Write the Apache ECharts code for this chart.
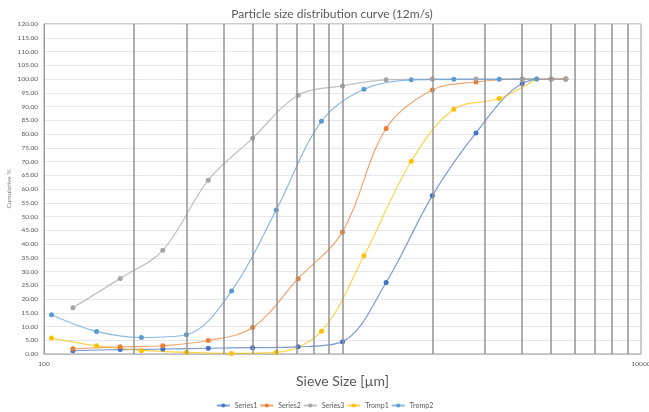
<!DOCTYPE html>
<html>
<head>
<meta charset="utf-8">
<script src="https://cdn.jsdelivr.net/npm/echarts@6/dist/echarts.min.js"></script>
<style>html,body{margin:0;padding:0;background:#fff;}#c{width:649px;height:412px;}</style>
</head>
<body>
<div id="c"></div>
<script>
// Sieve sizes (µm) for the cumulative series
const sieveSizes = [125, 180, 250, 355, 500, 710, 1000, 1400, 2000, 2800, 4000, 5000, 5600];
// Geometric-mean sizes (µm) for the Tromp series
const trompSizes = [106, 150, 212, 300, 425, 600, 850, 1180, 1700, 2360, 3350, 4470];

const series1 = [1.2, 1.6, 1.8, 2.1, 2.3, 2.6, 4.5, 26.0, 57.6, 80.4, 98.4, 100, 100];
const series2 = [1.9, 2.6, 3.0, 4.9, 9.6, 27.4, 44.4, 82.0, 96.0, 98.9, 100, 100, 100];
const series3 = [16.8, 27.5, 37.7, 63.2, 78.5, 94.1, 97.5, 99.7, 100, 100, 100, 100, 100];
const tromp1 = [5.8, 3.0, 1.3, 0.6, 0.2, 0.6, 8.3, 35.7, 70.1, 89.0, 92.9, 100];
const tromp2 = [14.3, 8.2, 6.0, 7.0, 22.9, 52.4, 84.6, 96.3, 99.7, 99.9, 99.9, 100];

// X-axis gridline values (log minor grid) and tick labels
const xGridValues = [200, 300, 400, 500, 600, 700, 800, 900, 1000, 2000, 3000, 4000, 5000, 6000, 7000, 8000, 9000];
const xTickLabels = [100, 10000];
const seriesNames = ['Series1', 'Series2', 'Series3', 'Tromp1', 'Tromp2'];

const colors = ['#4472C4', '#ED7D31', '#A5A5A5', '#FFC000', '#5B9BD5'];
const pair = (xs, ys) => xs.map((x, i) => [x, ys[i]]);
const datasets = [
  pair(sieveSizes, series1),
  pair(sieveSizes, series2),
  pair(sieveSizes, series3),
  pair(trompSizes, tromp1),
  pair(trompSizes, tromp2)
];

const chart = echarts.init(document.getElementById('c'), null, {renderer: 'canvas'});
const txt = '#595959';
const font = 'Lato, "Open Sans", sans-serif';

const mk = (name, i) => ({
  name: name,
  type: 'line',
  data: datasets[i],
  smooth: 0.35,
  symbol: 'circle',
  symbolSize: 5,
  z: 3,
  itemStyle: {color: colors[i]},
  lineStyle: {color: colors[i], width: 1.2, opacity: 0.7},
  emphasis: {disabled: true}
});

const allSeries = seriesNames.map(mk);
allSeries.push({
  name: 'grid',
  type: 'line',
  data: [],
  z: 1,
  silent: true,
  markLine: {
    silent: true,
    symbol: ['none', 'none'],
    label: {show: false},
    animation: false,
    lineStyle: {color: '#939393', width: 1.5, type: 'solid'},
    data: xGridValues.map(v => ({xAxis: v}))
  }
});

chart.setOption({
  animation: false,
  color: colors,
  title: {
    text: 'Particle size distribution curve (12m/s)',
    left: 327, top: 3, textAlign: 'center',
    textStyle: {fontFamily: font, fontSize: 12, fontWeight: 'normal', color: txt}
  },
  grid: {left: 44, right: 8, top: 24, bottom: 58, show: true, borderColor: '#9a9a9a', borderWidth: 1,
         containLabel: false, outerBoundsMode: 'none'},
  legend: {
    data: seriesNames,
    top: 397, left: 'center',
    itemWidth: 13, itemHeight: 5, itemGap: 2,
    textStyle: {fontFamily: font, fontSize: 7, color: txt}
  },
  xAxis: {
    type: 'log', logBase: 10, min: 100, max: 10000,
    name: 'Sieve Size [µm]', nameLocation: 'middle', nameGap: 20, nameMoveOverlap: false,
    nameTextStyle: {fontFamily: font, fontSize: 14, color: txt},
    axisLine: {show: true, lineStyle: {color: '#BFBFBF'}},
    axisTick: {show: false},
    splitLine: {show: false},
    axisLabel: {
      fontFamily: font, fontSize: 6.5, color: txt, margin: 6,
      formatter: v => xTickLabels.includes(Math.round(v)) ? String(Math.round(v)) : ''
    }
  },
  yAxis: {
    type: 'value', min: 0, max: 120, interval: 5,
    name: 'Cumulative %', nameLocation: 'middle', nameGap: 32, nameMoveOverlap: false,
    nameTextStyle: {fontFamily: font, fontSize: 6.5, color: '#7f7f7f'},
    axisLine: {show: true, lineStyle: {color: '#9a9a9a'}},
    axisTick: {show: false},
    splitLine: {show: true, lineStyle: {color: '#E6E6EC', width: 1}},
    axisLabel: {fontFamily: font, fontSize: 6.5, color: txt, margin: 6, formatter: v => v.toFixed(2)}
  },
  series: allSeries
});
</script>
</body>
</html>
